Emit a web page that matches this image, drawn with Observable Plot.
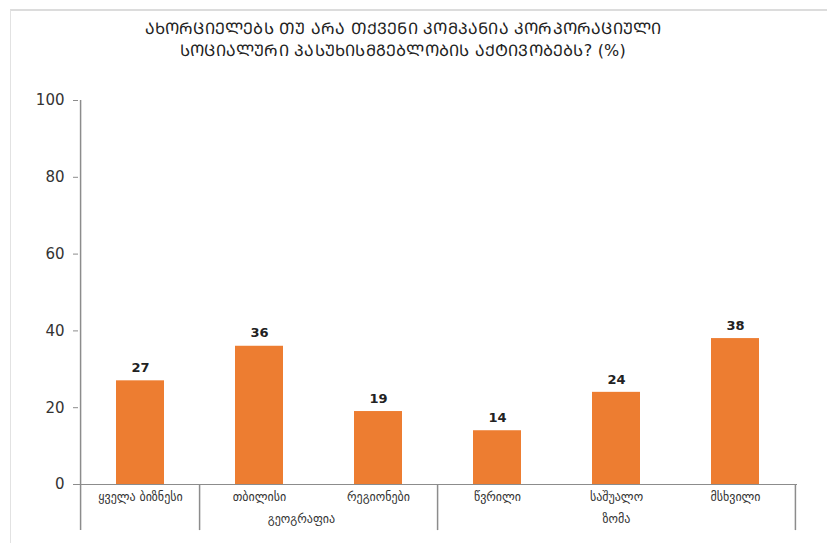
<!DOCTYPE html>
<html>
<head>
<meta charset="utf-8">
<script src="https://cdn.jsdelivr.net/npm/d3@7"></script>
<script src="https://cdn.jsdelivr.net/npm/@observablehq/plot@0.6"></script>
<style>
  html, body { margin: 0; padding: 0; background: #fff; }
  #wrap { position: relative; width: 827px; height: 543px; overflow: hidden; font-family: "DejaVu Sans", sans-serif; }
  #frame { position: absolute; left: 10px; top: 9px; width: 830px; height: 560px;
           border-top: 2px solid #dcdcdc; border-left: 1px solid #e2e2e2; box-sizing: border-box; }
  #title { position: absolute; left: 0; top: 18px; width: 806px; text-align: center;
           font-size: 16px; line-height: 22px; color: #222; letter-spacing: 0.2px; }
  #chart { position: absolute; left: 0; top: 72px; }
</style>
</head>
<body>
<div id="wrap">
  <div id="frame"></div>
  <div id="title"></div>
  <div id="chart"></div>
</div>
<script>
// Survey answers: share of companies running CSR activities (%)
const titleLines = [
  "ᲐᲮᲝᲠᲪᲘᲔᲚᲔᲑᲡ ᲗᲣ ᲐᲠᲐ ᲗᲥᲕᲔᲜᲘ ᲙᲝᲛᲞᲐᲜᲘᲐ ᲙᲝᲠᲞᲝᲠᲐᲪᲘᲣᲚᲘ",
  "ᲡᲝᲪᲘᲐᲚᲣᲠᲘ ᲞᲐᲡᲣᲮᲘᲡᲛᲒᲔᲑᲚᲝᲑᲘᲡ ᲐᲥᲢᲘᲕᲝᲑᲔᲑᲡ? (%)"
];
const categories = ["ყველა ბიზნესი", "თბილისი", "რეგიონები", "წვრილი", "საშუალო", "მსხვილი"];
const groupOf = ["", "გეოგრაფია", "გეოგრაფია", "ზომა", "ზომა", "ზომა"];
const values = [27, 36, 19, 14, 24, 38];
const yTicks = [0, 20, 40, 60, 80, 100];

document.getElementById("title").innerHTML = titleLines.join("<br>");

const data = categories.map((c, i) => ({cat: c, group: groupOf[i], value: values[i]}));

const W = 827, H = 471;
const mLeft = 78, mRight = 30, mTop = 28, mBottom = 59;
const step = (W - mLeft - mRight) / categories.length;

// each named group: its categories, label anchored on the middle one
const groupNames = [...new Set(groupOf.filter(g => g))];
const groupSpans = groupNames.map(g => {
  const idx = groupOf.map((v, i) => v === g ? i : -1).filter(i => i >= 0);
  const mid = idx[Math.floor((idx.length - 1) / 2)];
  return {group: g, anchor: categories[mid], even: idx.length % 2 === 0};
});
// boundaries between groups (left edge of each group's first band)
const boundaries = categories.filter((c, i) => i > 0 && groupOf[i] !== groupOf[i - 1]);

const axisGray = "#8c8c8c";

const groupLabelMarks = groupSpans.map(s =>
  Plot.text([s], {x: "anchor", y: 0, text: "group", dy: 35,
    dx: s.even ? step / 2 - 18 : 0, fontSize: 12, fill: "#333"})
);

const chart = Plot.plot({
  width: W,
  height: H,
  marginLeft: mLeft,
  marginRight: mRight,
  marginTop: mTop,
  marginBottom: mBottom,
  style: {fontFamily: "DejaVu Sans, sans-serif", color: "#333", background: "transparent"},
  x: {domain: categories, paddingInner: 0.6, paddingOuter: 0.3, label: null},
  y: {domain: [0, 100], label: null},
  marks: [
    Plot.axisY({ticks: yTicks, tickSize: 5, tickPadding: 9, fontSize: 15, stroke: axisGray, fill: "#333"}),
    Plot.axisX({tickSize: 0, tickPadding: 8, fontSize: 12, fill: "#333"}),
    Plot.barY(data, {x: "cat", y: "value", fill: "#ED7D31"}),
    Plot.text(data, {x: "cat", y: "value", text: d => String(d.value), dy: -13,
      fontSize: 13, fontWeight: "bold", fill: "#222"}),
    // baseline
    Plot.ruleY([0], {stroke: axisGray, strokeWidth: 1.2}),
    // y axis line, continuing down through the category area
    Plot.ruleX([categories[0]], {x: d => d, dx: -step / 2, y1: 100, y2: -12, stroke: axisGray, strokeWidth: 1.5}),
    // group separators
    Plot.ruleX(boundaries, {x: d => d, dx: -step / 2, y1: 0, y2: -12, stroke: axisGray, strokeWidth: 1.5}),
    Plot.ruleX([categories[categories.length - 1]], {x: d => d, dx: step / 2, y1: 0, y2: -12, stroke: axisGray, strokeWidth: 1.5}),
    ...groupLabelMarks
  ]
});

document.getElementById("chart").appendChild(chart);
</script>
</body>
</html>
